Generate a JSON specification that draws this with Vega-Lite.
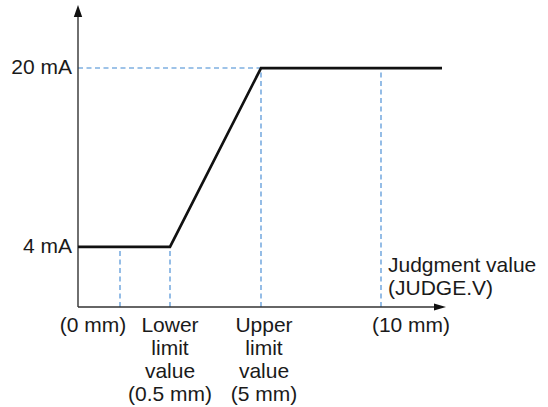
{
  "$schema": "https://vega.github.io/schema/vega-lite/v6.json",
  "autosize": {"type": "none"},
  "padding": {"left": 78, "top": 8, "right": 103, "bottom": 100},
  "width": 367,
  "height": 299,
  "background": "white",
  "config": {"view": {"stroke": null}},
  "datasets": {
    "curve": [{"x": 0, "mA": 4}, {"x": 9.2, "mA": 4}, {"x": 18.3, "mA": 20}, {"x": 36.4, "mA": 20}],
    "guides": [
      {"x": 4.2, "y": -1.37, "x2": 4.2, "y2": 4},
      {"x": 9.2, "y": -1.37, "x2": 9.2, "y2": 4},
      {"x": 18.3, "y": -1.37, "x2": 18.3, "y2": 20},
      {"x": 30.3, "y": -1.37, "x2": 30.3, "y2": 20},
      {"x": 0, "y": 20, "x2": 18.3, "y2": 20}
    ],
    "axes": [
      {"x": 0, "y": -1.37, "x2": 0, "y2": 25.0},
      {"x": 0, "y": -1.37, "x2": 36.2, "y2": -1.37}
    ],
    "arrowUp": [{"x": 0, "y": 25.1}],
    "arrowRight": [{"x": 36.2, "y": -1.37}],
    "ylabels": [{"x": -0.6, "y": 20, "label": "20 mA"}, {"x": -0.6, "y": 4, "label": "4 mA"}],
    "xlabels": [
      {"x": 1.5, "y": -3.61, "label": "(0 mm)"},
      {"x": 9.2, "y": -3.61, "label": "Lower\nlimit\nvalue\n(0.5 mm)"},
      {"x": 18.6, "y": -3.61, "label": "Upper\nlimit\nvalue\n(5 mm)"},
      {"x": 33.3, "y": -3.61, "label": "(10 mm)"}
    ],
    "title": [{"x": 31.0, "y": 1.76, "label": "Judgment value\n(JUDGE.V)"}]
  },
  "layer": [
    {
      "data": {"name": "guides"},
      "mark": {"type": "rule", "color": "#3f87d2", "strokeWidth": 1.1, "strokeDash": [5, 3.5]},
      "encoding": {
        "x": {"field": "x", "type": "quantitative", "scale": {"domain": [0, 36.7], "nice": false, "zero": false}, "axis": null},
        "y": {"field": "y", "type": "quantitative", "scale": {"domain": [-1.37, 25.37], "nice": false, "zero": false}, "axis": null},
        "x2": {"field": "x2"},
        "y2": {"field": "y2"}
      }
    },
    {
      "data": {"name": "axes"},
      "mark": {"type": "rule", "color": "#333333", "strokeWidth": 1.4},
      "encoding": {
        "x": {"field": "x", "type": "quantitative"},
        "y": {"field": "y", "type": "quantitative"},
        "x2": {"field": "x2"},
        "y2": {"field": "y2"}
      }
    },
    {
      "data": {"name": "curve"},
      "mark": {"type": "line", "color": "#111111", "strokeWidth": 2.7},
      "encoding": {
        "x": {"field": "x", "type": "quantitative"},
        "y": {"field": "mA", "type": "quantitative"},
        "order": {"field": "x"}
      }
    },
    {
      "data": {"name": "arrowUp"},
      "mark": {"type": "point", "shape": "M0,-1L0.7,1L-0.7,1Z", "filled": true, "color": "#111111", "size": 144, "opacity": 1},
      "encoding": {
        "x": {"field": "x", "type": "quantitative"},
        "y": {"field": "y", "type": "quantitative"}
      }
    },
    {
      "data": {"name": "arrowRight"},
      "mark": {"type": "point", "shape": "M1,0L-1,0.6L-1,-0.6Z", "filled": true, "color": "#111111", "size": 144, "opacity": 1},
      "encoding": {
        "x": {"field": "x", "type": "quantitative"},
        "y": {"field": "y", "type": "quantitative"}
      }
    },
    {
      "data": {"name": "ylabels"},
      "mark": {"type": "text", "align": "right", "baseline": "middle", "font": "Liberation Sans", "fontSize": 21, "color": "#1a1a1a"},
      "encoding": {
        "x": {"field": "x", "type": "quantitative"},
        "y": {"field": "y", "type": "quantitative"},
        "text": {"field": "label", "type": "nominal"}
      }
    },
    {
      "data": {"name": "xlabels"},
      "mark": {"type": "text", "align": "center", "baseline": "alphabetic", "font": "Liberation Sans", "fontSize": 21, "lineHeight": 23, "lineBreak": "\n", "color": "#1a1a1a"},
      "encoding": {
        "x": {"field": "x", "type": "quantitative"},
        "y": {"field": "y", "type": "quantitative"},
        "text": {"field": "label", "type": "nominal"}
      }
    },
    {
      "data": {"name": "title"},
      "mark": {"type": "text", "align": "left", "baseline": "alphabetic", "font": "Liberation Sans", "fontSize": 21, "lineHeight": 23, "lineBreak": "\n", "color": "#1a1a1a"},
      "encoding": {
        "x": {"field": "x", "type": "quantitative"},
        "y": {"field": "y", "type": "quantitative"},
        "text": {"field": "label", "type": "nominal"}
      }
    }
  ]
}
